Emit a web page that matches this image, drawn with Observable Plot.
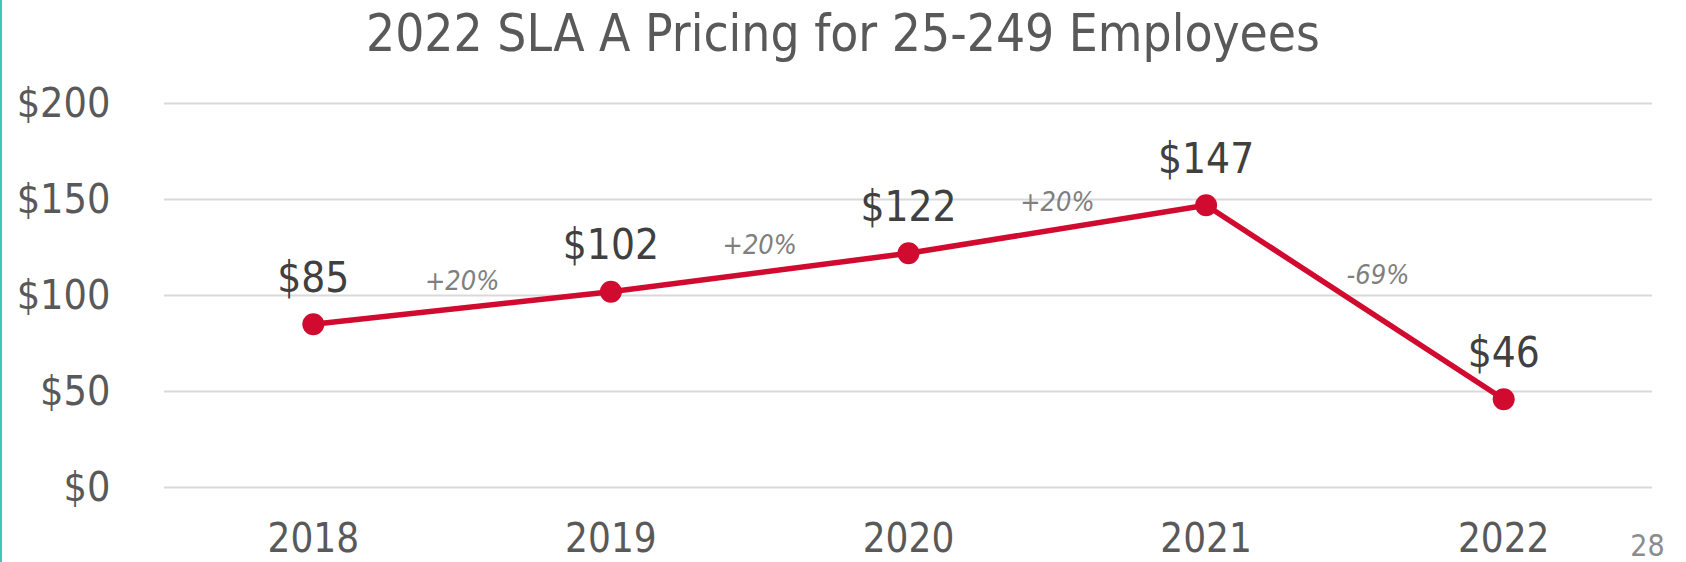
<!DOCTYPE html>
<html>
<head>
<meta charset="utf-8">
<script src="https://cdn.jsdelivr.net/npm/d3@7"></script>
<script src="https://cdn.jsdelivr.net/npm/@observablehq/plot@0.6"></script>
<style>
  html, body { margin: 0; padding: 0; background: #fff; }
  body { width: 1686px; height: 562px; position: relative; overflow: hidden;
         font-family: "DejaVu Sans Condensed", "DejaVu Sans", sans-serif; }
  #edge { position: absolute; left: 0; top: 0; width: 2px; height: 562px; background: #3cc9b5; }
  #title { height: 76px; line-height: 68px; text-align: center; font-size: 51px; color: #595959; white-space: nowrap; }
  #chart svg { display: block; }
</style>
</head>
<body>
<div id="edge"></div>
<div id="title">2022 SLA A Pricing for 25-249 Employees</div>
<div id="chart"></div>
<script>
const years = [2018, 2019, 2020, 2021, 2022];
const prices = [85, 102, 122, 147, 46];
const yTicks = [0, 50, 100, 150, 200];
const pageNumber = "28";

const data = years.map((year, i) => ({year, value: prices[i]}));
const changes = data.slice(1).map((d, i) => {
  const prev = data[i];
  const pct = Math.round((d.value - prev.value) / prev.value * 100);
  return {
    mid: (prev.year + d.year) / 2,
    midValue: (prev.value + d.value) / 2,
    pct,
    label: (pct > 0 ? "+" : "") + pct + "%"
  };
});

const red = "#d10a2f";
const font = "'DejaVu Sans Condensed', 'DejaVu Sans', sans-serif";

const chart = Plot.plot({
  width: 1686,
  height: 486,
  marginLeft: 164,
  marginRight: 34,
  marginTop: 27,
  marginBottom: 75,
  style: { fontFamily: font, background: "#fff", overflow: "visible" },
  x: { type: "linear", domain: [2017.5, 2022.5] },
  y: { domain: [0, 200] },
  marks: [
    Plot.ruleY(yTicks, { stroke: "#d9d9d9", strokeWidth: 2 }),
    Plot.axisY({ ticks: yTicks, tickSize: 0, tickPadding: 54, tickFormat: d => "$" + d,
                 fontSize: 41, color: "#595959", label: null }),
    Plot.axisX({ ticks: years, tickSize: 0, tickPadding: 36, tickFormat: d => String(d),
                 fontSize: 40, color: "#595959", label: null }),
    Plot.line(data, { x: "year", y: "value", stroke: red, strokeWidth: 5.5 }),
    Plot.dot(data, { x: "year", y: "value", r: 11, fill: red, stroke: "none" }),
    Plot.text(data, { x: "year", y: "value", text: d => "$" + d.value, dy: -46,
                      fontSize: 42, fill: "#404040" }),
    Plot.text(changes.filter(d => d.pct >= 0), { x: "mid", y: "midValue", text: "label", dy: -27,
                      fontSize: 27, fontStyle: "italic", fill: "#7f7f7f" }),
    Plot.text(changes.filter(d => d.pct < 0), { x: "mid", y: "midValue", text: "label", dy: -27, dx: 23,
                      fontSize: 27, fontStyle: "italic", fill: "#7f7f7f" }),
    Plot.text([pageNumber], { frameAnchor: "bottom-right", text: d => d, dx: -5, dy: 59,
                      textAnchor: "middle", lineAnchor: "middle",
                      fontSize: 30, fill: "#8c8c8c" })
  ]
});
document.getElementById("chart").appendChild(chart);
</script>
</body>
</html>
